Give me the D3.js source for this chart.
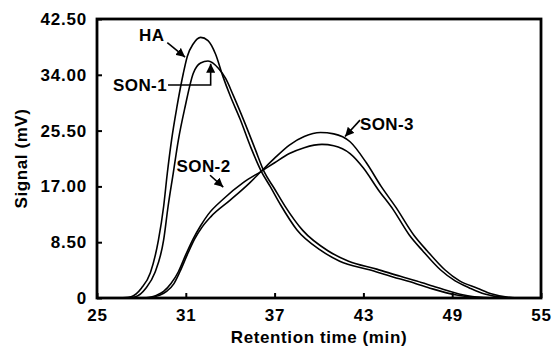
<!DOCTYPE html>
<html lang="en">
<head>
    <meta charset="UTF-8">
    <title>Retention time chromatogram</title>
    <script src="https://d3js.org/d3.v7.min.js"></script>
    <style>
        body { margin: 0; background: #fff; }
        svg { display: block; }
        text { font-family: "Liberation Sans", Arial, Helvetica, sans-serif; font-weight: bold; fill: #000; }
    </style>
</head>
<body>
    <div id="chart"></div>
    <script>
        // values: [retention time (min), signal (mV)]
        const haPoints = [
            [26.5, 0], [27.3, 0.2], [28.0, 1.5], [28.6, 3.8], [29.15, 8.8], [29.5, 13.9],
            [29.75, 19.0], [30.04, 24.1], [30.4, 29.1], [30.83, 34.2], [31.1, 36.8], [31.5, 38.7],
            [32.0, 39.7], [32.5, 39.2], [33.0, 37.2], [33.5, 33.8], [34.0, 30.8], [34.66, 27.3],
            [35.4, 22.9], [36.1, 19.3], [36.7, 17.0], [37.4, 14.2], [38.5, 10.4], [40.1, 7.3],
            [41.4, 5.6], [43.4, 4.3], [45.0, 3.2], [46.1, 2.5], [47.5, 1.5], [49.3, 0.45],
            [50.5, 0.1], [52.0, 0]
        ];
        const son1Points = [
            [26.8, 0], [27.6, 0.2], [28.3, 1.5], [28.9, 3.8], [29.5, 8.8], [29.8, 13.9],
            [30.15, 19.0], [30.5, 24.1], [30.95, 29.1], [31.5, 34.2], [32.0, 35.8], [32.5, 36.1],
            [33.2, 35.0], [33.7, 33.4], [34.2, 30.9], [35.0, 26.6], [35.7, 22.6], [36.3, 19.2],
            [36.95, 16.8], [37.7, 14.0], [38.9, 10.3], [40.6, 7.2], [42.0, 5.6], [43.9, 4.4],
            [45.5, 3.3], [46.6, 2.6], [48.0, 1.6], [49.7, 0.5], [50.9, 0.1], [52.4, 0]
        ];
        const son2Points = [
            [28.2, 0], [29.0, 0.4], [29.5, 1.0], [30.0, 2.2], [30.5, 4.0], [31.0, 6.6],
            [31.5, 9.0], [32.0, 11.0], [32.5, 12.7], [33.5, 15.0], [34.9, 17.6], [36.1, 19.3],
            [37.0, 20.6], [38.0, 22.0], [39.0, 22.9], [40.2, 23.4], [41.0, 23.2], [42.1, 22.0],
            [43.0, 19.8], [44.0, 16.5], [45.0, 13.5], [46.1, 9.6], [47.0, 7.2], [48.2, 4.3],
            [49.2, 2.6], [50.2, 1.5], [51.2, 0.6], [52.4, 0.1], [53.5, 0]
        ];
        const son3Points = [
            [28.4, 0], [29.2, 0.4], [29.7, 1.0], [30.2, 2.2], [30.6, 4.0], [31.1, 6.6],
            [31.6, 9.0], [32.1, 10.8], [32.7, 12.4], [34.0, 14.9], [35.3, 17.5], [36.1, 19.3],
            [37.0, 21.3], [38.0, 23.3], [39.0, 24.6], [40.1, 25.2], [41.0, 25.0], [42.1, 23.8],
            [43.2, 20.6], [44.2, 17.0], [45.2, 13.8], [46.4, 9.6], [47.3, 7.2], [48.5, 4.3],
            [49.5, 2.6], [50.7, 1.5], [51.7, 0.6], [52.8, 0.1], [53.8, 0]
        ];
        const series = [haPoints, son1Points, son2Points, son3Points];

        const xTicks = [25, 31, 37, 43, 49, 55];
        const yTicks = [0, 8.5, 17, 25.5, 34, 42.5];

        // label text + anchor and arrow path, in data units
        const labels = [
            {text: "HA", at: [28.7, 39.1], anchor: "middle", arrow: [[29.75, 38.9], [30.95, 36.7]]},
            {text: "SON-1", at: [29.73, 31.5], anchor: "end", arrow: [[29.8, 32.45], [32.68, 32.45], [32.68, 35.7]]},
            {text: "SON-2", at: [32.2, 19.2], anchor: "middle", arrow: [[32.64, 18.7], [33.53, 16.9]]},
            {text: "SON-3", at: [42.77, 25.6], anchor: "start", arrow: [[42.77, 27.1], [41.76, 24.6]]}
        ];

        const width = 552;
        const height = 349;
        const margin = {top: 19, right: 11, bottom: 51, left: 97};

        const x = d3.scaleLinear().domain([25, 55]).range([margin.left, width - margin.right]);
        const y = d3.scaleLinear().domain([0, 42.5]).range([height - margin.bottom, margin.top]);

        const svg = d3.select("#chart").append("svg")
            .attr("width", width)
            .attr("height", height)
            .attr("viewBox", [0, 0, width, height]);

        svg.append("defs").append("marker")
            .attr("id", "head")
            .attr("viewBox", "0 0 10 10")
            .attr("refX", 10)
            .attr("refY", 5)
            .attr("markerWidth", 9)
            .attr("markerHeight", 9)
            .attr("markerUnits", "userSpaceOnUse")
            .attr("orient", "auto")
            .append("path")
            .attr("d", "M0,0L10,5L0,10z")
            .attr("fill", "#000");

        const xAxis = svg.append("g")
            .attr("transform", `translate(0,${height - margin.bottom})`)
            .call(d3.axisBottom(x).tickValues(xTicks).tickSizeInner(-5).tickSizeOuter(0).tickPadding(11));
        const yAxis = svg.append("g")
            .attr("transform", `translate(${margin.left},0)`)
            .call(d3.axisLeft(y).tickValues(yTicks).tickSizeInner(-5).tickSizeOuter(0).tickPadding(10)
                .tickFormat(d => d === 0 ? "0" : d.toFixed(2)));

        for (const g of [xAxis, yAxis]) {
            g.select(".domain").remove();
            g.selectAll(".tick line").attr("stroke", "#000").attr("stroke-width", 2);
            g.selectAll(".tick text")
                .style("font-size", "17px")
                .style("letter-spacing", "0.8px")
                .attr("fill", "#000");
        }

        // frame
        svg.append("rect")
            .attr("x", margin.left)
            .attr("y", margin.top)
            .attr("width", width - margin.left - margin.right)
            .attr("height", height - margin.top - margin.bottom)
            .attr("fill", "none")
            .attr("stroke", "#000")
            .attr("stroke-width", 2.8);

        const line = d3.line()
            .x(d => x(d[0]))
            .y(d => y(d[1]))
            .curve(d3.curveMonotoneX);

        svg.append("g")
            .attr("fill", "none")
            .attr("stroke", "#000")
            .attr("stroke-width", 1.6)
            .selectAll("path")
            .data(series)
            .join("path")
            .attr("d", line);

        const ann = svg.append("g");
        ann.selectAll("text")
            .data(labels)
            .join("text")
            .attr("x", d => x(d.at[0]))
            .attr("y", d => y(d.at[1]))
            .attr("text-anchor", d => d.anchor)
            .style("font-size", "17px")
            .style("letter-spacing", "0.4px")
            .text(d => d.text);
        ann.selectAll("path")
            .data(labels)
            .join("path")
            .attr("d", d => d3.line().x(p => x(p[0])).y(p => y(p[1])).curve(d3.curveLinear)(d.arrow))
            .attr("fill", "none")
            .attr("stroke", "#000")
            .attr("stroke-width", 1.6)
            .attr("marker-end", "url(#head)");

        svg.append("text")
            .attr("x", (margin.left + width - margin.right) / 2)
            .attr("y", height - 6)
            .attr("text-anchor", "middle")
            .style("font-size", "17px")
            .style("letter-spacing", "0.6px")
            .text("Retention time (min)");

        svg.append("text")
            .attr("transform", `translate(27,${(margin.top + height - margin.bottom) / 2}) rotate(-90)`)
            .attr("text-anchor", "middle")
            .style("font-size", "17px")
            .style("letter-spacing", "0.6px")
            .text("Signal (mV)");
    </script>
</body>
</html>
